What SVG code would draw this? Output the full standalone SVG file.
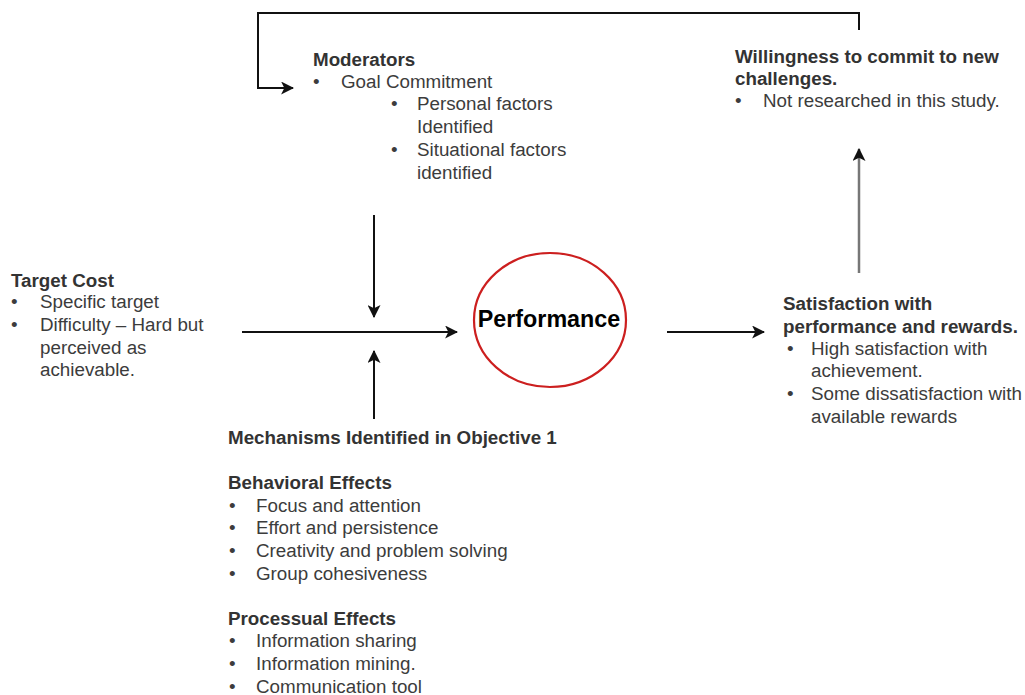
<svg xmlns="http://www.w3.org/2000/svg" width="1025" height="695" viewBox="0 0 1025 695">
<style>
text{font-family:"Liberation Sans",Arial,sans-serif;font-size:18.8px;fill:#3c3c3c}
.h{font-weight:bold;fill:#333}
.c{fill:none;stroke:#111;stroke-width:2}
</style>
<defs>
<marker id="ahb" viewBox="0 0 12 12" refX="11" refY="6" markerWidth="13" markerHeight="13" markerUnits="userSpaceOnUse" orient="auto">
<path d="M0,0 L12,6 L0,12 L3,6 Z" fill="#111"/>
</marker>
</defs>
<rect width="1025" height="695" fill="#fff"/>
<g id="connectors">
<path class="c" d="M859,30 V13 H258 V88 H293" marker-end="url(#ahb)"/>
<line x1="859" y1="273" x2="859" y2="149" stroke="#777" stroke-width="2.5" marker-end="url(#ahb)"/>
<line class="c" x1="242" y1="332" x2="457" y2="332" marker-end="url(#ahb)"/>
<line class="c" x1="374" y1="215" x2="374" y2="317" marker-end="url(#ahb)"/>
<line class="c" x1="374" y1="419" x2="374" y2="351" marker-end="url(#ahb)"/>
<line class="c" x1="667" y1="332" x2="764" y2="332" marker-end="url(#ahb)"/>
</g>
<g id="moderators">
<text class="h" x="313" y="66">Moderators</text>
<text x="313" y="88">•</text><text x="341" y="88">Goal Commitment</text>
<text x="391" y="110">•</text><text x="417" y="110">Personal factors</text>
<text x="417" y="133">Identified</text>
<text x="391" y="156">•</text><text x="417" y="156">Situational factors</text>
<text x="417" y="179">identified</text>
</g>
<g id="willingness">
<text class="h" x="735" y="63">Willingness to commit to new</text>
<text class="h" x="735" y="85">challenges.</text>
<text x="735" y="107">•</text><text x="763" y="107">Not researched in this study.</text>
</g>
<g id="target-cost">
<text class="h" x="11" y="287">Target Cost</text>
<text x="11" y="308">•</text><text x="40" y="308">Specific target</text>
<text x="11" y="331">•</text><text x="40" y="331">Difficulty – Hard but</text>
<text x="40" y="354">perceived as</text>
<text x="40" y="376">achievable.</text>
</g>
<g id="performance">
<ellipse cx="550" cy="320" rx="76" ry="67" fill="#fff" stroke="#cc1f1f" stroke-width="2.2"/>
<text x="549" y="327" text-anchor="middle" style="font-weight:bold;font-size:23.3px;fill:#000">Performance</text>
</g>
<g id="satisfaction">
<text class="h" x="783" y="310">Satisfaction with</text>
<text class="h" x="783" y="333">performance and rewards.</text>
<text x="787" y="355">•</text><text x="811" y="355">High satisfaction with</text>
<text x="811" y="377">achievement.</text>
<text x="787" y="400">•</text><text x="811" y="400">Some dissatisfaction with</text>
<text x="811" y="423">available rewards</text>
</g>
<g id="mechanisms">
<text class="h" x="228" y="444">Mechanisms Identified in Objective 1</text>
<text class="h" x="228" y="489">Behavioral Effects</text>
<text x="229" y="512">•</text><text x="256" y="512">Focus and attention</text>
<text x="229" y="534">•</text><text x="256" y="534">Effort and persistence</text>
<text x="229" y="557">•</text><text x="256" y="557">Creativity and problem solving</text>
<text x="229" y="580">•</text><text x="256" y="580">Group cohesiveness</text>
<text class="h" x="228" y="625">Processual Effects</text>
<text x="229" y="647">•</text><text x="256" y="647">Information sharing</text>
<text x="229" y="670">•</text><text x="256" y="670">Information mining.</text>
<text x="229" y="693">•</text><text x="256" y="693">Communication tool</text>
</g>
</svg>
